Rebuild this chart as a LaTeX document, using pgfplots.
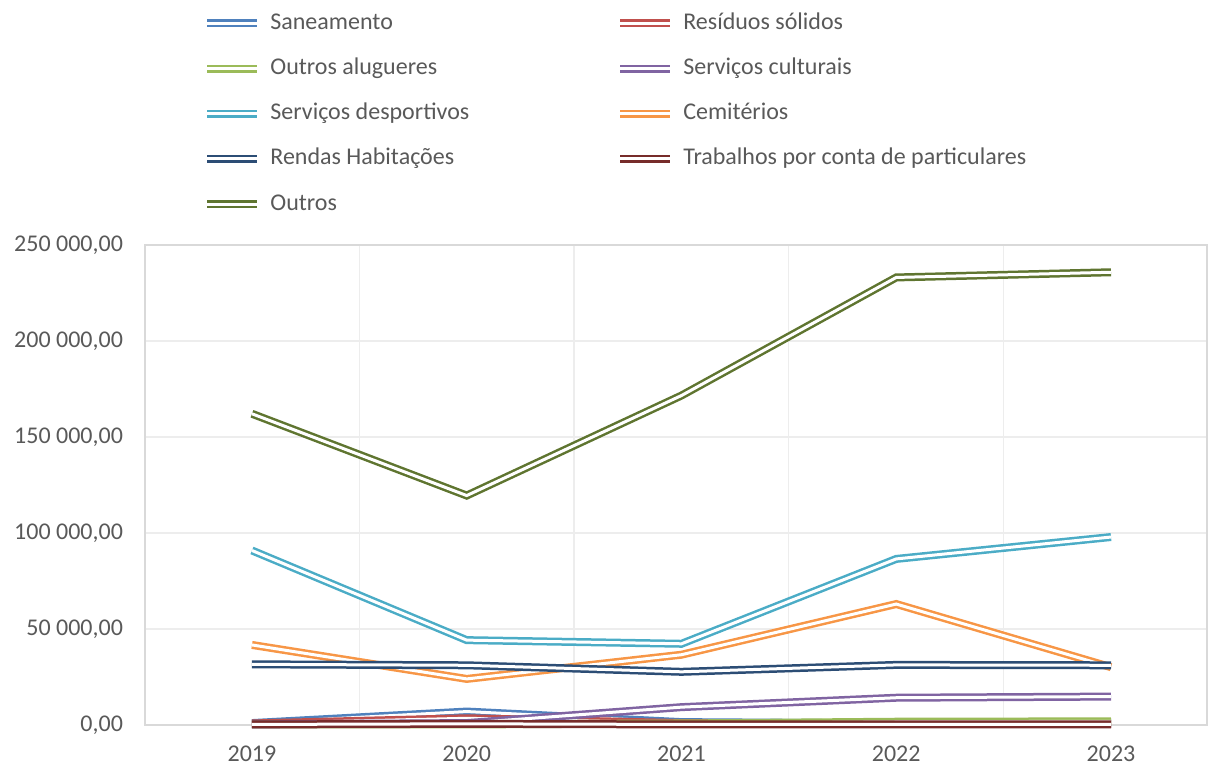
\documentclass[border=0pt]{standalone}
\usepackage{pgfplots}
\pgfplotsset{compat=1.18}
\usepackage{fontspec}
\setmainfont{Carlito}
\definecolor{cSan}{HTML}{4F81BD}
\definecolor{cRes}{HTML}{C0504D}
\definecolor{cAlu}{HTML}{9BBB59}
\definecolor{cCul}{HTML}{8064A2}
\definecolor{cDes}{HTML}{4BACC6}
\definecolor{cCem}{HTML}{F79646}
\definecolor{cRen}{HTML}{2C4D75}
\definecolor{cTra}{HTML}{772C2A}
\definecolor{cOut}{HTML}{5F7530}
\definecolor{axisgray}{HTML}{D9D9D9}
\definecolor{gridgray}{HTML}{EDEDED}
\definecolor{labgray}{HTML}{595959}
\begin{document}
\begin{tikzpicture}
\begin{axis}[
  scale only axis, width=531pt, height=240pt,
  xmin=2018.502, xmax=2023.447, ymin=0, ymax=250000,
  xtick={2019,2020,2021,2022,2023},
  xticklabels={2019,2020,2021,2022,2023},
  minor xtick={2019.5,2020.5,2021.5,2022.5},
  xminorgrids=true, ymajorgrids=true,
  ytick={0,50000,100000,150000,200000,250000},
  yticklabels={{0,00},{50 000,00},{100 000,00},{150 000,00},{200 000,00},{250 000,00}},
  major tick length=0pt, minor tick length=0pt,
  axis line style={draw=axisgray, line width=0.6pt},
  major grid style={draw=gridgray, line width=0.6pt},
  minor grid style={draw=gridgray, line width=0.6pt},
  /pgf/number format/assume math mode=true,
  tick label style={font=\fontsize{12}{14}\selectfont, text=labgray},
  xticklabel style={yshift=-7pt},
  yticklabel style={xshift=-7.5pt},
  scaled y ticks=false,
  clip=false,
  dl/.style={line width=1.25pt, double=white, double distance=1.5pt, line join=miter, sharp plot},
  legend image code/.code={\draw[#1] (0pt,0pt) -- (25pt,0pt);},
  legend cell align=left,
  legend columns=2,
  legend style={at={(axis description cs:0.0546,1.4875)}, anchor=north west,
    draw=none, fill=none, inner sep=0pt,
    font=\fontsize{12}{14}\selectfont, text=labgray,
    nodes={inner xsep=0pt, inner ysep=0pt, text height=9pt, text depth=3pt},
    row sep=10.6pt,
    /tikz/every odd column/.append style={column sep=4.5pt},
    /tikz/every even column/.append style={column sep=73.5pt}},
]
\addplot[dl, draw=cSan] coordinates {(2019,1000) (2020,7000) (2021,1500) (2022,800) (2023,800)};
\addlegendentry{Saneamento}
\addplot[dl, draw=cRes] coordinates {(2019,800) (2020,3500) (2021,1000) (2022,600) (2023,600)};
\addlegendentry{Resíduos sólidos}
\addplot[dl, draw=cAlu] coordinates {(2019,300) (2020,300) (2021,800) (2022,1700) (2023,1900)};
\addlegendentry{Outros alugueres}
\addplot[dl, draw=cCul] coordinates {(2019,300) (2020,1000) (2021,9300) (2022,14200) (2023,14800)};
\addlegendentry{Serviços culturais}
\addplot[dl, draw=cDes] coordinates {(2019,90900) (2020,44200) (2021,42300) (2022,86500) (2023,97900)};
\addlegendentry{Serviços desportivos}
\addplot[dl, draw=cCem] coordinates {(2019,41700) (2020,24000) (2021,36600) (2022,63000) (2023,30100)};
\addlegendentry{Cemitérios}
\addplot[dl, draw=cRen] coordinates {(2019,31600) (2020,31100) (2021,27700) (2022,31300) (2023,31100)};
\addlegendentry{Rendas Habitações}
\addplot[dl, draw=cTra] coordinates {(2019,300) (2020,600) (2021,300) (2022,300) (2023,300)};
\addlegendentry{Trabalhos por conta de particulares}
\addplot[dl, draw=cOut] coordinates {(2019,162100) (2020,119500) (2021,171600) (2022,233100) (2023,235800)};
\addlegendentry{Outros}
\end{axis}
\pgfresetboundingbox
\path ([shift={(-72.5pt,-20pt)}]current axis.south west) rectangle ([shift={(1pt,122.5pt)}]current axis.north east);
\end{tikzpicture}
\end{document}
